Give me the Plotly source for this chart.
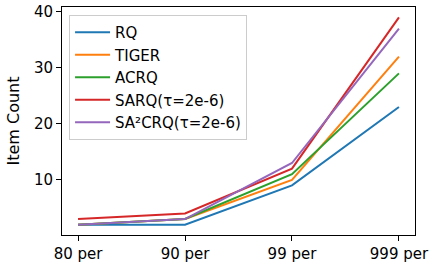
import plotly.graph_objects as go

categories = ["80 per", "90 per", "99 per", "999 per"]
rq = [2, 2, 9, 23]
tiger = [2, 3, 10, 32]
acrq = [2, 3, 11, 29]
sarq = [3, 4, 12, 39]
sa2crq = [2, 3, 13, 37]

series = [
    ("RQ", rq, "#1f77b4"),
    ("TIGER", tiger, "#ff7f0e"),
    ("ACRQ", acrq, "#2ca02c"),
    ("SARQ(τ=2e-6)", sarq, "#d62728"),
    ("SA²CRQ(τ=2e-6)", sa2crq, "#9467bd"),
]

fig = go.Figure()
for name, vals, color in series:
    fig.add_trace(go.Scatter(x=list(range(len(categories))), y=vals, name=name, mode="lines",
                             line=dict(color=color, width=2)))

font = dict(family="DejaVu Sans", size=15, color="black")
fig.update_layout(
    width=430, height=269,
    margin=dict(l=62, r=15, t=7, b=34, autoexpand=False),
    plot_bgcolor="white", paper_bgcolor="white",
    font=font,
    showlegend=True,
    legend=dict(x=0.02, y=0.965, xanchor="left", yanchor="top", itemwidth=35,
                bgcolor="rgba(255,255,255,0.8)", bordercolor="#cccccc", borderwidth=1,
                font=dict(family="DejaVu Sans", size=15, color="black")),
)
fig.update_xaxes(
    range=[-0.15, 3.15], tickmode="array", tickvals=list(range(len(categories))), ticktext=categories,
    showgrid=False, zeroline=False, showline=True, linecolor="black", linewidth=1, mirror=True,
    ticks="outside", ticklen=5, tickcolor="black", automargin=False,
)
fig.update_yaxes(
    range=[0.15, 40.85], tickvals=[10, 20, 30, 40],
    showgrid=False, zeroline=False, showline=True, linecolor="black", linewidth=1, mirror=True,
    ticks="outside", ticklen=5, tickcolor="black", automargin=False,
    title=dict(text="Item Count", standoff=10, font=dict(size=16)),
)
fig.write_html("out.html", config={"displayModeBar": False},
               post_script="document.body.style.margin='0';document.body.style.overflow='hidden';")
